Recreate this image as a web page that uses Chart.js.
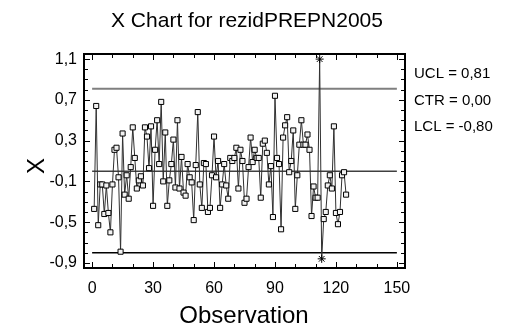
<!DOCTYPE html>
<html><head><meta charset="utf-8">
<style>html,body{margin:0;padding:0;background:#fff;}canvas{display:block;}</style>
<script src="https://cdn.jsdelivr.net/npm/chart.js@4.4.0/dist/chart.umd.min.js"></script>
</head><body>
<canvas id="c" width="526" height="331"></canvas>
<script>
const titleText = 'X Chart for rezidPREPN2005';
const xTitle = 'Observation';
const yTitle = 'X';
const values = [
 -0.37, 0.64, -0.53, -0.13, -0.13, -0.42, -0.14, -0.41, -0.60, -0.13,
  0.21, 0.23, -0.06, -0.79, 0.37, -0.23, -0.04, -0.27, 0.04, 0.43,
  0.13, -0.17, -0.09, -0.05, -0.14, 0.43, 0.34, 0.03, 0.44, -0.34,
  0.21, 0.50, 0.07, 0.68, -0.10, 0.38, -0.34, -0.09, 0.07, 0.31,
 -0.16, 0.50, -0.17, 0.14, -0.21, -0.24, 0.07, -0.06, -0.11, -0.48,
  0.06, 0.58, -0.13, -0.36, 0.08, 0.07, -0.40, -0.36, -0.04, 0.34,
 -0.06, 0.10, -0.36, -0.13, 0.07, -0.14, -0.27, 0.13, 0.10, 0.13,
  0.23, -0.17, 0.21, 0.10, -0.31, -0.27, 0.04, 0.33, 0.09, 0.21,
  0.13, 0.13, -0.26, 0.27, 0.30, 0.18, -0.13, 0.05, -0.45, 0.74,
  0.13, 0.07, -0.57, 0.33, 0.45, 0.53, -0.01, 0.10, 0.40, -0.37,
 -0.04, 0.26, 0.50, 0.26, 0.26, 0.36, 0.21, -0.44, -0.15, -0.26,
 -0.26, 1.10, -0.86, -0.47, -0.40, -0.14, -0.04, -0.17, 0.44, -0.41,
 -0.52, -0.40, -0.04, -0.01, -0.23
];
const outOfControl = [112, 113];
const ucl = 0.81, ctr = 0.00, lcl = -0.80;
const limitStart = 0, limitEnd = 150;
const limitLabels = ['UCL = 0,81', 'CTR = 0,00', 'LCL = -0,80'];
const xMajor = [0, 30, 60, 90, 120, 150];
const xTickLabels = ['0', '30', '60', '90', '120', '150'];
const xTicksAll = [0,10,20,30,40,50,60,70,80,90,100,110,120,130,140,150];
const yMajor = [-0.9, -0.5, -0.1, 0.3, 0.7, 1.1];
const yTickLabels = ['-0,9', '-0,5', '-0,1', '0,3', '0,7', '1,1'];
const yTicksAll = [-0.9,-0.8,-0.7,-0.6,-0.5,-0.4,-0.3,-0.2,-0.1,0,0.1,0.2,0.3,0.4,0.5,0.6,0.7,0.8,0.9,1.0,1.1];

const FONT = '"Liberation Sans", Arial, sans-serif';
const isOut = c => c && c.raw && outOfControl.includes(c.raw.x);
const findIdx = (arr, v) => arr.findIndex(m => Math.abs(m - v) < 1e-6);

const pts = values.map((v, i) => ({x: i + 1, y: v}));
const limitLine = (val, color, w) => ({
  data: [{x: limitStart, y: val}, {x: limitEnd, y: val}],
  borderColor: color, borderWidth: w, pointRadius: 0, order: 2, fill: false
});

const framePlugin = {
  id: 'frame',
  afterDraw(chart) {
    const {ctx, chartArea: a, scales: {x, y}} = chart;
    ctx.save();
    ctx.strokeStyle = '#000';
    ctx.lineWidth = 2;
    ctx.strokeRect(a.left, a.top, a.right - a.left, a.bottom - a.top);
    ctx.lineWidth = 1;
    ctx.beginPath();
    yTicksAll.forEach(v => {
      const p = Math.round(y.getPixelForValue(v)) + 0.5;
      const L = findIdx(yMajor, v) >= 0 ? 6 : 4;
      ctx.moveTo(a.left, p); ctx.lineTo(a.left + L, p);
      ctx.moveTo(a.right, p); ctx.lineTo(a.right - L, p);
    });
    xTicksAll.forEach(v => {
      const p = Math.round(x.getPixelForValue(v)) + 0.5;
      const L = xMajor.indexOf(v) >= 0 ? 6 : 4;
      ctx.moveTo(p, a.top); ctx.lineTo(p, a.top + L);
      ctx.moveTo(p, a.bottom); ctx.lineTo(p, a.bottom - L);
    });
    ctx.stroke();

    ctx.fillStyle = '#000';
    ctx.textBaseline = 'alphabetic';
    ctx.textAlign = 'center';
    ctx.font = '21px ' + FONT;
    ctx.fillText(titleText, 247, 27);
    ctx.font = '24px ' + FONT;
    ctx.fillText(xTitle, 244, 323);
    ctx.save();
    ctx.translate(44, 166);
    ctx.rotate(-Math.PI / 2);
    ctx.fillText(yTitle, 0, 0);
    ctx.restore();
    ctx.font = '15px ' + FONT;
    ctx.textAlign = 'left';
    limitLabels.forEach((t, i) => ctx.fillText(t, 414, 78 + i * 26.5));
    ctx.restore();
  }
};

new Chart(document.getElementById('c'), {
  type: 'line',
  data: {
    datasets: [
      {
        data: pts,
        borderColor: '#303030',
        borderWidth: 1,
        tension: 0,
        fill: false,
        order: 1,
        pointStyle: c => isOut(c) ? 'star' : 'rect',
        pointRadius: c => isOut(c) ? 4 : 3.6,
        pointBorderColor: '#000',
        pointBackgroundColor: '#f2f2f2',
        pointBorderWidth: 1
      },
      limitLine(ucl, '#7f7f7f', 2),
      limitLine(ctr, '#404040', 1.5),
      limitLine(lcl, '#000000', 1.5)
    ]
  },
  options: {
    responsive: false,
    animation: false,
    devicePixelRatio: 1,
    layout: {padding: {left: 0, right: 121, top: 54, bottom: 0}},
    plugins: {legend: {display: false}, tooltip: {enabled: false}, title: {display: false}},
    scales: {
      x: {
        type: 'linear', min: -4, max: 154,
        grid: {display: false, drawTicks: false},
        border: {display: false},
        afterBuildTicks: s => { s.ticks = xTicksAll.map(v => ({value: v})); },
        afterFit: s => { s.height = 63; },
        ticks: {
          autoSkip: false, maxRotation: 0, padding: 11, color: '#000',
          font: {family: FONT, size: 16},
          callback: v => { const i = xMajor.indexOf(v); return i >= 0 ? xTickLabels[i] : ''; }
        }
      },
      y: {
        type: 'linear', min: -0.95, max: 1.15,
        grid: {display: false, drawTicks: false},
        border: {display: false},
        afterBuildTicks: s => { s.ticks = yTicksAll.map(v => ({value: v})); },
        afterFit: s => { s.width = 84; },
        ticks: {
          autoSkip: false, padding: 7, color: '#000',
          font: {family: FONT, size: 16},
          callback: v => { const i = findIdx(yMajor, v); return i >= 0 ? yTickLabels[i] : ''; }
        }
      }
    }
  },
  plugins: [framePlugin]
});
</script>
</body></html>
